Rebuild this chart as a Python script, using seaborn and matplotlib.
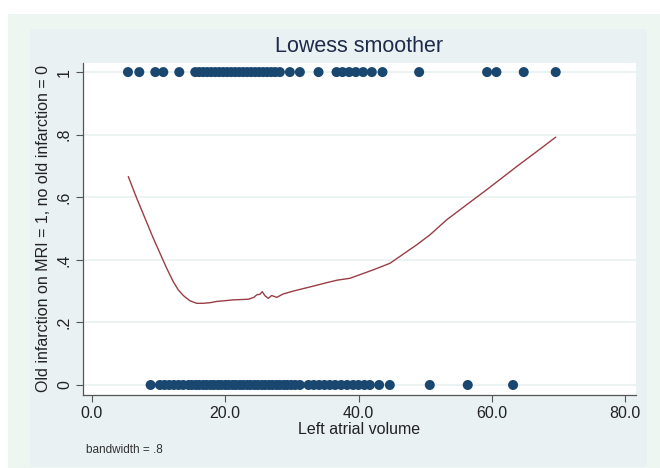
import matplotlib
matplotlib.use("Agg")
import matplotlib.pyplot as plt
from matplotlib.patches import Rectangle
import seaborn as sns
import pandas as pd

# ---- data ----
top_x = [5.4, 7.1, 9.5, 10.7, 13.1, 15.5, 16.1, 16.7, 17.3, 17.9, 18.5, 19.1,
         19.7, 20.3, 20.9, 21.5, 22.1, 22.7, 23.3, 23.9, 24.5, 25.1, 25.7, 26.3,
         26.9, 27.5, 28.2, 29.7, 31.2, 34.0, 36.7, 37.6, 38.6, 39.6, 40.7, 42.0,
         43.6, 49.1, 59.3, 60.7, 64.8, 69.6]
bottom_x = [8.8, 10.2, 10.9, 11.6, 12.3, 13.0, 13.7, 14.5, 15.0, 15.6, 16.1,
            16.7, 17.2, 17.8, 18.3, 18.9, 19.4, 20.0, 20.5, 21.1, 21.6, 22.2,
            22.7, 23.3, 23.8, 24.4, 24.9, 25.5, 26.0, 26.6, 27.1, 27.7, 28.2,
            28.8, 29.3, 29.9, 30.5, 31.2, 32.5, 33.3, 34.1, 34.9, 35.7, 36.5,
            37.4, 38.3, 39.2, 40.0, 40.9, 41.7, 43.1, 44.7, 50.7, 56.4, 63.2]
curve_x = [5.45, 6.71, 9.20, 11.21, 12.20, 12.95, 13.70, 14.71, 15.71, 16.7,
           17.71, 18.72, 19.8, 21.21, 23.46, 24.3, 24.72, 25.2, 25.56, 25.97,
           26.46, 26.97, 27.72, 28.71, 30.21, 31.7, 33.22, 35.23, 36.8, 38.72,
           42.22, 44.73, 48.74, 50.73, 53.24, 57.23, 59.24, 63.74, 66.75, 69.60]
curve_y = [0.666, 0.597, 0.469, 0.373, 0.330, 0.304, 0.286, 0.269, 0.261,
           0.261, 0.263, 0.267, 0.269, 0.272, 0.274, 0.280, 0.288, 0.290,
           0.298, 0.285, 0.277, 0.286, 0.280, 0.291, 0.300, 0.308, 0.316,
           0.327, 0.335, 0.341, 0.368, 0.389, 0.448, 0.480, 0.528, 0.592,
           0.624, 0.698, 0.746, 0.792]
x_ticks = [0, 20, 40, 60, 80]
x_tick_labels = ["0.0", "20.0", "40.0", "60.0", "80.0"]
y_ticks = [0, 0.2, 0.4, 0.6, 0.8, 1]
y_tick_labels = ["0", ".2", ".4", ".6", ".8", "1"]

pts = pd.DataFrame({
    "x": top_x + bottom_x,
    "y": [1] * len(top_x) + [0] * len(bottom_x),
})
curve = pd.DataFrame({"x": curve_x, "y": curve_y})

sns.set_theme(style="white")
plt.rcParams["font.family"] = ["Liberation Sans", "DejaVu Sans"]

W, H = 660, 468
fig = plt.figure(figsize=(W / 100, H / 100), dpi=100, facecolor="white")

# background panels
fig.patches.append(Rectangle((8 / W, 0), 1 - 8 / W, (468 - 14) / H,
                             transform=fig.transFigure, facecolor="#EEF6F2",
                             edgecolor="none", zorder=-10))
fig.patches.append(Rectangle((30 / W, 1 / H), (647 - 30) / W, (467 - 29) / H,
                             transform=fig.transFigure, facecolor="#EAF1F3",
                             edgecolor="none", zorder=-9))

left, right, top, bottom = 83, 636, 63, 395
ax = fig.add_axes([left / W, 1 - bottom / H, (right - left) / W, (bottom - top) / H])
ax.set_facecolor("white")

sns.scatterplot(data=pts, x="x", y="y", ax=ax, s=52, color="#1A476F",
                edgecolor="none", zorder=3, legend=False)
sns.lineplot(data=curve, x="x", y="y", ax=ax, sort=False, estimator=None,
             color="#9A3E45", linewidth=1.0, zorder=4)

ax.set_xlim(-1.35, 81.65)
ax.set_ylim(-0.032, 1.029)
ax.set_xticks(x_ticks)
ax.set_xticklabels(x_tick_labels, fontsize=11.5, color="#222222")
ax.set_yticks(y_ticks)
ax.set_yticklabels(y_tick_labels, fontsize=11.5, color="#222222",
                   rotation=90, va="center")
ax.tick_params(axis="both", direction="out", length=5, width=0.8,
               color="#555555", pad=3)
ax.tick_params(axis="x", bottom=True)
ax.tick_params(axis="y", left=True)

ax.yaxis.grid(True, color="#EAF2F2", linewidth=1.3)
ax.xaxis.grid(False)
ax.set_axisbelow(True)
for side in ["top", "right"]:
    ax.spines[side].set_visible(False)
for side in ["left", "bottom"]:
    ax.spines[side].set_color("#555555")
    ax.spines[side].set_linewidth(0.9)

ax.set_xlabel("Left atrial volume", fontsize=11.5, color="#222222", labelpad=1)
ax.set_ylabel("Old infarction on MRI = 1, no old infarction = 0",
              fontsize=11.5, color="#222222", labelpad=4)

fig.text((left + right) / 2 / W, 1 - 47 / H, "Lowess smoother", ha="center",
         va="center", fontsize=15.5, color="#1E2B4A")
fig.text(86 / W, 1 - 450 / H, "bandwidth = .8", ha="left", va="center",
         fontsize=8.5, color="#333333")

fig.savefig("out.png", dpi=100, facecolor="white")
